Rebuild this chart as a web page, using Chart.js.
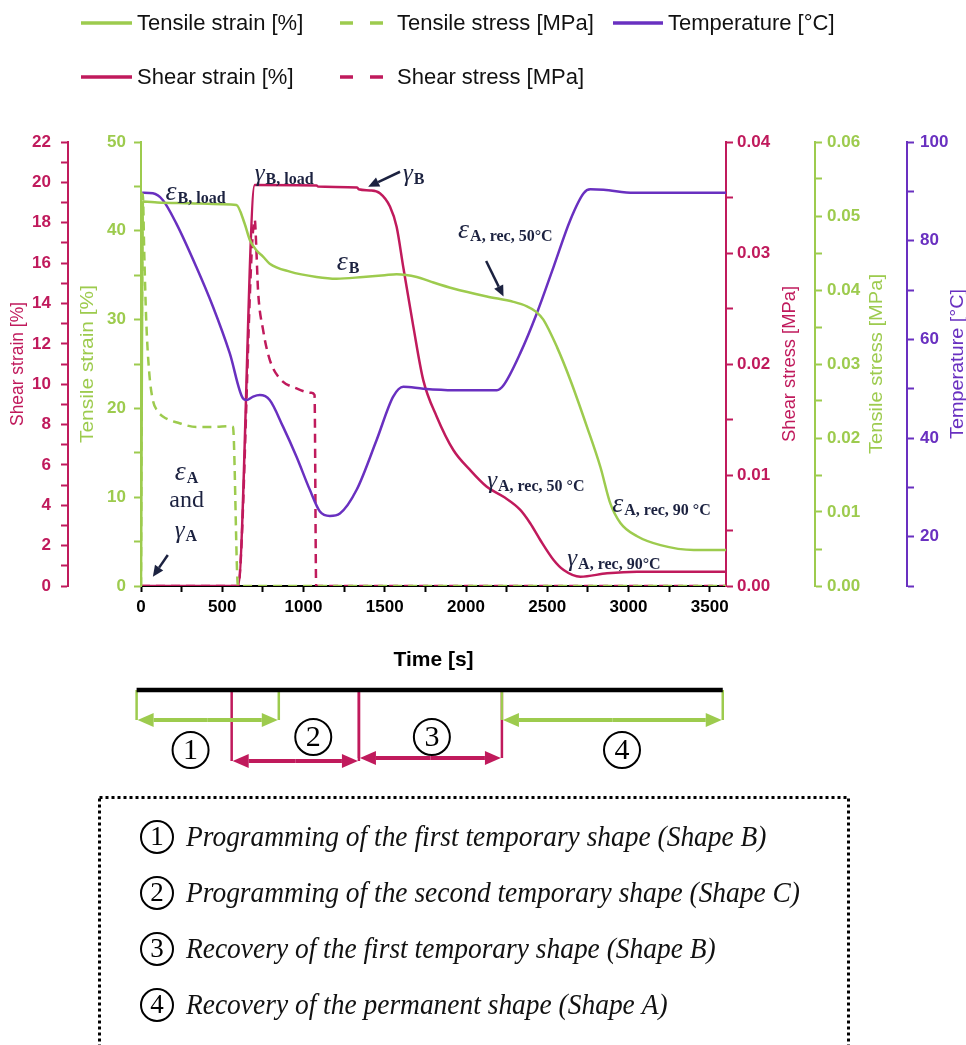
<!DOCTYPE html>
<html>
<head>
<meta charset="utf-8">
<script src="https://cdn.jsdelivr.net/npm/chart.js@4.4.0/dist/chart.umd.min.js"></script>
<style>
  html, body { margin: 0; padding: 0; background: #fff; }
  #chart { display: block; }
</style>
</head>
<body>
<canvas id="chart" width="966" height="1045"></canvas>
<script>
// values (time in s)
const tensileStrainTime = [0, 12, 100, 300, 500, 587, 638, 669, 710, 751, 792, 916, 1080, 1203, 1367, 1500, 1573, 1697, 1779, 1921, 2128, 2292, 2375, 2430, 2476, 2560, 2642, 2745, 2827, 2888, 2950, 3053, 3197, 3402, 3600];
const tensileStrain = [0, 43.3, 43.2, 43.1, 43.0, 42.9, 40.8, 39.0, 37.8, 37.1, 36.3, 35.4, 34.8, 34.6, 34.8, 35.0, 35.1, 34.8, 34.3, 33.5, 32.6, 32.0, 31.5, 30.9, 30.0, 26.9, 23.2, 17.9, 13.4, 9.3, 7.1, 5.6, 4.6, 4.05, 4.05];

const tensileStressTime = [0, 6, 11, 20, 32, 50, 73, 100, 135, 237, 340, 450, 546, 566, 597, 3600];
const tensileStress = [0, 0.04, 0.053, 0.045, 0.036, 0.029, 0.0251, 0.0237, 0.0229, 0.0220, 0.0215, 0.0215, 0.0216, 0.0215, 0, 0];

const temperatureTime = [7, 73, 135, 217, 340, 443, 546, 628, 649, 690, 731, 792, 874, 957, 1039, 1101, 1162, 1224, 1327, 1450, 1552, 1614, 1737, 1922, 2190, 2231, 2334, 2436, 2539, 2642, 2724, 2765, 2847, 3032, 3600];
const temperature = [89.7, 89.6, 88.2, 83.5, 74.7, 66.6, 57.2, 48.0, 47.7, 48.4, 48.7, 47.7, 42.3, 36.2, 29.5, 25.1, 24.2, 24.7, 29.5, 39.6, 48.4, 50.4, 50.0, 49.7, 49.7, 50.7, 57.2, 65.3, 74.7, 84.2, 89.6, 90.4, 90.3, 89.7, 89.7];

const shearStrainTime = [0, 597, 700, 1080, 1090, 1330, 1340, 1409, 1470, 1532, 1573, 1614, 1676, 1737, 1820, 1922, 2025, 2128, 2231, 2334, 2395, 2457, 2539, 2601, 2704, 2868, 3053, 3600];
const shearStrain = [0, 0, 19.87, 19.85, 19.79, 19.75, 19.66, 19.6, 19.46, 18.8, 17.8, 15.8, 12.85, 10.2, 8.39, 6.74, 5.75, 4.92, 4.42, 3.77, 3.11, 2.28, 1.29, 0.79, 0.46, 0.63, 0.71, 0.71];

const shearStressTime = [0, 597, 700, 710, 720, 751, 792, 854, 957, 1049, 1068, 1078, 3600];
const shearStress = [0, 0, 0.033, 0.0303, 0.0267, 0.0231, 0.0204, 0.0187, 0.0178, 0.0174, 0.0172, 0, 0];

const seriesLabels = ["Tensile strain [%]", "Tensile stress [MPa]", "Temperature [°C]", "Shear strain [%]", "Shear stress [MPa]"];

// phases of the test (s)
const phaseNumbers = ["1", "2", "3", "4"];
const phaseStart = [-27, 558, 1341, 2221];
const phaseEnd = [848, 1341, 2221, 3580];
const phaseLabelTime = [305, 1060, 1790, 2960];
const phaseDescriptions = [
    "Programming of the first temporary shape (Shape B)",
    "Programming of the second temporary shape (Shape C)",
    "Recovery of the first temporary shape (Shape B)",
    "Recovery of the permanent shape (Shape A)"
];

// labels inside the plot, placed in (time, tensile strain) units
const symbolLabels = [
    { t: 151, v: 43.5, greek: "ε", sub: "B, load" },
    { t: 700, v: 45.6, greek: "γ", sub: "B, load" },
    { t: 1612, v: 45.6, greek: "γ", sub: "B" },
    { t: 1205, v: 35.6, greek: "ε", sub: "B" },
    { t: 207, v: 11.9, greek: "ε", sub: "A" },
    { t: 207, v: 5.4, greek: "γ", sub: "A" },
    { t: 1951, v: 39.2, greek: "ε", sub: "A, rec, 50°C" },
    { t: 2130, v: 11.0, greek: "γ", sub: "A, rec, 50 °C" },
    { t: 2900, v: 8.3, greek: "ε", sub: "A, rec, 90 °C" },
    { t: 2623, v: 2.25, greek: "γ", sub: "A, rec, 90°C" }
];
const pointerArrows = [
    { from: [1594, 46.65], to: [1398, 44.96] },
    { from: [165, 3.49], to: [73, 1.05] },
    { from: [2124, 36.6], to: [2231, 32.6] }
];

const GREEN = "#9dcb4e";
const CRIMSON = "#c01a5c";
const PURPLE = "#6930c0";
const INK = "#1c2240";
const SANS = '"Liberation Sans", Arial, sans-serif';
const SERIF = '"Liberation Serif", "Times New Roman", serif';

function toPoints(times, values) {
    return times.map((t, i) => ({ x: t, y: values[i] }));
}

function lineDataset(label, times, values, color, axis, dashed) {
    return {
        label: label,
        data: toPoints(times, values),
        borderColor: color,
        backgroundColor: color,
        borderWidth: 2.5,
        borderDash: dashed ? [9, 6] : [],
        pointRadius: 0,
        cubicInterpolationMode: "monotone",
        fill: false,
        yAxisID: axis
    };
}

function yAxis(position, weight, min, max, step, color, width, labelEvery, digits, padding) {
    return {
        type: "linear",
        position: position,
        weight: weight,
        min: min,
        max: max,
        ticks: {
            stepSize: step,
            autoSkip: false,
            color: color,
            padding: padding,
            font: { family: SANS, size: 17, weight: "bold" },
            callback: v => {
                const k = Math.round(v / step);
                if (k % labelEvery !== 0) return "";
                return digits ? v.toFixed(digits) : v;
            }
        },
        grid: { drawOnChartArea: false, color: color, tickLength: 7, tickWidth: 2 },
        border: { color: color, width: 2 },
        afterFit: scale => { scale.width = width; }
    };
}

function arrow(ctx, x1, y1, x2, y2, headLen, headHalf, lineWidth, color) {
    const a = Math.atan2(y2 - y1, x2 - x1);
    const bx = x2 - headLen * Math.cos(a);
    const by = y2 - headLen * Math.sin(a);
    ctx.strokeStyle = color;
    ctx.fillStyle = color;
    ctx.lineWidth = lineWidth;
    ctx.setLineDash([]);
    ctx.beginPath();
    ctx.moveTo(x1, y1);
    ctx.lineTo(bx, by);
    ctx.stroke();
    ctx.beginPath();
    ctx.moveTo(x2, y2);
    ctx.lineTo(bx + headHalf * Math.sin(a), by - headHalf * Math.cos(a));
    ctx.lineTo(bx - headHalf * Math.sin(a), by + headHalf * Math.cos(a));
    ctx.closePath();
    ctx.fill();
}

function circledNumber(ctx, text, cx, cy, r, size) {
    ctx.strokeStyle = "#000";
    ctx.lineWidth = 2;
    ctx.setLineDash([]);
    ctx.beginPath();
    ctx.arc(cx, cy, r, 0, Math.PI * 2);
    ctx.stroke();
    ctx.fillStyle = "#000";
    ctx.font = size + "px " + SERIF;
    ctx.textAlign = "center";
    ctx.textBaseline = "middle";
    ctx.fillText(text, cx, cy + 1);
}

// rotated title, font size from the glyph height, squeezed to the length seen in the figure
function verticalTitle(ctx, text, cx, cy, size, length, color) {
    ctx.save();
    ctx.translate(cx, cy);
    ctx.rotate(-Math.PI / 2);
    ctx.font = size + "px " + SANS;
    ctx.scale(length / ctx.measureText(text).width, 1);
    ctx.fillStyle = color;
    ctx.textAlign = "center";
    ctx.textBaseline = "middle";
    ctx.fillText(text, 0, 0);
    ctx.restore();
}

const figureExtras = {
    id: "figureExtras",
    afterDraw(chart) {
        const ctx = chart.ctx;
        const xs = chart.scales.x;
        const ys = chart.scales.yTs;
        const sets = chart.data.datasets;
        ctx.save();

        // legend, two rows as in the figure
        const legendItems = [
            { ds: 0, y: 23, lineX: 81, textX: 137 },
            { ds: 1, y: 23, lineX: 340, textX: 397 },
            { ds: 2, y: 23, lineX: 613, textX: 668 },
            { ds: 3, y: 77, lineX: 81, textX: 137 },
            { ds: 4, y: 77, lineX: 340, textX: 397 }
        ];
        legendItems.forEach(item => {
            const d = sets[item.ds];
            ctx.strokeStyle = d.borderColor;
            ctx.lineWidth = 3.5;
            ctx.beginPath();
            if (d.borderDash.length) {
                ctx.setLineDash([13, 17]);
                ctx.moveTo(item.lineX, item.y);
                ctx.lineTo(item.lineX + 43, item.y);
            } else {
                ctx.setLineDash([]);
                ctx.moveTo(item.lineX, item.y);
                ctx.lineTo(item.textX - 5, item.y);
            }
            ctx.stroke();
            ctx.setLineDash([]);
            ctx.fillStyle = "#111";
            ctx.font = "22px " + SANS;
            ctx.textAlign = "left";
            ctx.textBaseline = "middle";
            ctx.fillText(d.label, item.textX, item.y + 1);
        });

        // axis titles
        const midY = (chart.chartArea.top + chart.chartArea.bottom) / 2;
        const sc = chart.scales;
        verticalTitle(ctx, "Shear strain [%]", sc.ySs.left + 18, midY, 18, 124, CRIMSON);
        verticalTitle(ctx, "Tensile strain [%]", sc.yTs.left + 20, midY, 19, 158, GREEN);
        verticalTitle(ctx, "Shear stress [MPa]", sc.ySg.left + 64, midY, 19, 156, CRIMSON);
        verticalTitle(ctx, "Tensile stress [MPa]", sc.yTg.left + 62, midY, 19, 180, GREEN);
        verticalTitle(ctx, "Temperature [°C]", sc.yT.left + 51, midY, 19, 150, PURPLE);

        ctx.fillStyle = "#000";
        ctx.font = "bold 21px " + SANS;
        ctx.textAlign = "center";
        ctx.textBaseline = "middle";
        ctx.fillText("Time [s]", (xs.left + xs.right) / 2, 660);

        // symbols inside the plot
        symbolLabels.forEach(l => {
            const x = xs.getPixelForValue(l.t);
            const y = ys.getPixelForValue(l.v);
            ctx.fillStyle = INK;
            ctx.textAlign = "left";
            ctx.textBaseline = "alphabetic";
            ctx.font = "italic " + (l.greek === "γ" ? 25 : 28) + "px " + SERIF;
            ctx.fillText(l.greek, x, y);
            const w = ctx.measureText(l.greek).width;
            ctx.font = "bold 16px " + SERIF;
            ctx.fillText(l.sub, x + w + 1, y + 3);
        });
        ctx.fillStyle = INK;
        ctx.font = "24px " + SERIF;
        ctx.textAlign = "center";
        ctx.fillText("and", xs.getPixelForValue(281), ys.getPixelForValue(8.9));
        pointerArrows.forEach(a => {
            arrow(ctx, xs.getPixelForValue(a.from[0]), ys.getPixelForValue(a.from[1]),
                xs.getPixelForValue(a.to[0]), ys.getPixelForValue(a.to[1]), 11, 5, 2.5, INK);
        });

        // phase bar under the time axis
        const lineY = 690;
        const phaseY = [720, 761, 758, 720];
        const phaseColor = [GREEN, CRIMSON, CRIMSON, GREEN];
        const labelY = [750, 737, 737, 750];
        [1, 2, 0, 3].forEach(i => {
            const x1 = xs.getPixelForValue(phaseStart[i]);
            const x2 = xs.getPixelForValue(phaseEnd[i]);
            ctx.strokeStyle = phaseColor[i];
            ctx.lineWidth = 2.5;
            ctx.setLineDash([]);
            ctx.beginPath();
            ctx.moveTo(x1, lineY);
            ctx.lineTo(x1, phaseY[i]);
            ctx.moveTo(x2, lineY);
            ctx.lineTo(x2, phaseY[i]);
            ctx.stroke();
            const mid = (x1 + x2) / 2;
            arrow(ctx, mid, phaseY[i], x2 - 1, phaseY[i], 16, 7, 4, phaseColor[i]);
            arrow(ctx, mid, phaseY[i], x1 + 1, phaseY[i], 16, 7, 4, phaseColor[i]);
        });
        ctx.strokeStyle = "#000";
        ctx.lineWidth = 4.5;
        ctx.beginPath();
        ctx.moveTo(xs.getPixelForValue(phaseStart[0]), lineY);
        ctx.lineTo(xs.getPixelForValue(phaseEnd[3]), lineY);
        ctx.stroke();
        phaseNumbers.forEach((n, i) => {
            circledNumber(ctx, n, xs.getPixelForValue(phaseLabelTime[i]), labelY[i], 18, 30);
        });

        // dotted legend box of the phases
        ctx.strokeStyle = "#000";
        ctx.lineWidth = 3;
        ctx.setLineDash([3, 3]);
        ctx.strokeRect(99.5, 797.5, 749, 300);
        ctx.setLineDash([]);
        ctx.font = "italic 30px " + SERIF;
        const widest = ctx.measureText(phaseDescriptions[1]).width;
        const squeeze = 614 / widest;
        phaseDescriptions.forEach((text, i) => {
            const cy = 837 + i * 56;
            circledNumber(ctx, phaseNumbers[i], 157, cy, 16, 27);
            ctx.save();
            ctx.translate(186, cy + 1);
            ctx.scale(squeeze, 1);
            ctx.font = "italic 30px " + SERIF;
            ctx.fillStyle = "#111";
            ctx.textAlign = "left";
            ctx.textBaseline = "middle";
            ctx.fillText(text, 0, 0);
            ctx.restore();
        });

        ctx.restore();
    }
};

new Chart(document.getElementById("chart"), {
    type: "line",
    data: {
        datasets: [
            lineDataset(seriesLabels[0], tensileStrainTime, tensileStrain, GREEN, "yTs", false),
            lineDataset(seriesLabels[1], tensileStressTime, tensileStress, GREEN, "yTg", true),
            lineDataset(seriesLabels[2], temperatureTime, temperature, PURPLE, "yT", false),
            lineDataset(seriesLabels[3], shearStrainTime, shearStrain, CRIMSON, "ySs", false),
            lineDataset(seriesLabels[4], shearStressTime, shearStress, CRIMSON, "ySg", true)
        ]
    },
    options: {
        responsive: false,
        devicePixelRatio: 1,
        animation: false,
        layout: { padding: { top: 142, bottom: 429, left: 0, right: 0 } },
        plugins: { legend: { display: false }, tooltip: { enabled: false } },
        scales: {
            x: {
                type: "linear",
                position: "bottom",
                min: 0,
                max: 3600,
                ticks: {
                    stepSize: 250,
                    includeBounds: false,
                    autoSkip: false,
                    maxRotation: 0,
                    color: "#000",
                    padding: 5,
                    font: { family: SANS, size: 17, weight: "bold" },
                    callback: v => (v % 500 === 0 ? v : "")
                },
                grid: { drawOnChartArea: false, color: "#000", tickLength: 6, tickWidth: 2 },
                border: { color: "#000", width: 2 },
                afterFit: scale => { scale.height = 30; }
            },
            yTs: yAxis("left", 1, 0, 50, 5, GREEN, 73, 2, 0, 8),
            ySs: yAxis("left", 2, 0, 22, 1, CRIMSON, 68, 2, 0, 10),
            ySg: yAxis("right", 1, 0, 0.04, 0.005, CRIMSON, 89, 2, 2, 4),
            yTg: yAxis("right", 2, 0, 0.06, 0.005, GREEN, 92, 2, 2, 5),
            yT: yAxis("right", 3, 10, 100, 10, PURPLE, 59, 2, 0, 6)
        }
    },
    plugins: [figureExtras]
});
</script>
</body>
</html>
